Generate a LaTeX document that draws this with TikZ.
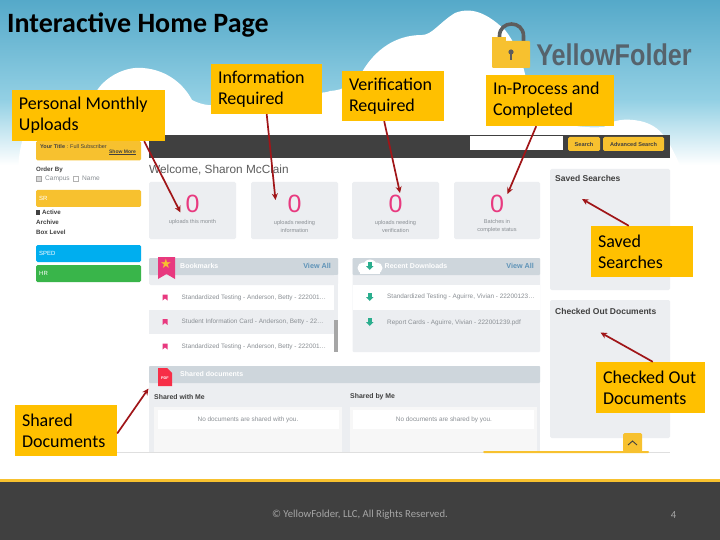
\documentclass[tikz,border=0pt]{standalone}
\usepackage{fontspec}
\setmainfont{Carlito}
\newfontfamily\hv{Liberation Sans}
\newfontfamily\djv{DejaVu Sans}
\definecolor{lblfill}{HTML}{FFC000}
\definecolor{arrowred}{HTML}{A01518}
\definecolor{dark}{HTML}{404040}
\definecolor{gold}{HTML}{F7C12F}
\definecolor{cardbg}{HTML}{ECEEF1}
\definecolor{headbg}{HTML}{CED6DC}
\definecolor{pink}{HTML}{E8397F}
\definecolor{teal}{HTML}{2BAE8E}
\definecolor{skyA}{HTML}{55A9C9}
\definecolor{skyB}{HTML}{93D0E4}
\definecolor{graytxt}{HTML}{8A8F94}
\definecolor{linkblue}{HTML}{5E93B8}
\definecolor{logogray}{HTML}{56636C}
\definecolor{btnblue}{HTML}{00AEEF}
\definecolor{btngreen}{HTML}{39B54A}
\definecolor{foottxt}{HTML}{A6A6A6}
\usetikzlibrary{arrows.meta}
\tikzset{
  lbl/.style={fill=lblfill,inner sep=0pt,align=flush left,font=\fontsize{18}{21}\selectfont,text=black},
  conn/.style={draw=arrowred,line width=1.7pt,-{Stealth[length=6.5pt,width=6pt]}},
  card/.style={fill=cardbg,rounded corners=1.5pt},
  zero/.style={text=pink,font=\hv\fontsize{25}{25}\selectfont,inner sep=0pt},
  tiny/.style={text=graytxt,font=\hv\fontsize{5.6}{8}\selectfont,inner sep=0pt,align=center},
  rowtxt/.style={text=graytxt,font=\hv\fontsize{6.4}{7}\selectfont,inner sep=0pt,anchor=west},
  head/.style={text=white,font=\hv\bfseries\fontsize{7}{8}\selectfont,inner sep=0pt,anchor=west},
  viewall/.style={text=linkblue,font=\hv\bfseries\fontsize{7.2}{8}\selectfont,inner sep=0pt},
  side/.style={font=\hv\bfseries\fontsize{6.2}{7}\selectfont,text=dark,inner sep=0pt,anchor=west},
  sidesmall/.style={inner sep=0pt,anchor=west,font=\hv\fontsize{6.6}{7}\selectfont,text=graytxt},
  sidewhite/.style={inner sep=0pt,anchor=west,font=\hv\fontsize{6}{7}\selectfont,text=white},
  sidebtn/.style={rounded corners=1.5pt},
  btn/.style={fill=gold,rounded corners=1.5pt,inner sep=0pt,font=\hv\bfseries\fontsize{5.6}{6}\selectfont,text=dark},
  panelhd/.style={anchor=west,inner sep=0pt,text=dark,font=\hv\bfseries\fontsize{8.5}{9}\selectfont},
  subhd/.style={anchor=west,inner sep=0pt,text=dark,font=\hv\bfseries\fontsize{6.9}{7}\selectfont},
  footer/.style={text=foottxt,font=\fontsize{10.7}{12}\selectfont,inner sep=0pt},
}
\begin{document}
\begin{tikzpicture}[x=1pt,y=-1pt]
\useasboundingbox (0,0) rectangle (720,540);
% sky
\fill[white] (0,0) rectangle (720,540);
\shade[top color=skyA,bottom color=skyB,draw=none] (0,0) rectangle (720,100);
\shade[top color=skyB,bottom color=white,draw=none] (0,100) rectangle (720,165);
% clouds
\fill[white] (18,170) .. controls (20,135) and (28,112) .. (58,108)
  .. controls (70,108) and (78,112) .. (92,100)
  .. controls (100,78) and (125,66) .. (143,68)
  .. controls (168,70) and (184,85) .. (192,100)
  .. controls (215,112) and (232,100) .. (250,98)
  .. controls (280,88) and (320,96) .. (330,91)
  .. controls (345,90) and (350,85) .. (362,72)
  .. controls (375,50) and (395,35) .. (422,35)
  .. controls (432,35) and (440,22) .. (455,13)
  .. controls (475,5) and (492,18) .. (505,30)
  .. controls (525,55) and (528,90) .. (532,110)
  .. controls (560,128) and (590,128) .. (604,127)
  .. controls (612,120) and (625,118) .. (640,121)
  .. controls (662,126) and (668,140) .. (680,165)
  -- (680,170) -- cycle;
\fill[white] (0,165) rectangle (720,480);
% footer
\fill[dark] (0,482) rectangle (720,540);
\fill[gold] (0,479) rectangle (720,482);
\node[footer] (copy) at (360,515) {© YellowFolder, LLC, All Rights Reserved.};
\node[footer] (pageno) at (673.5,515) {4};
% title
\node (title) at (7,25) [anchor=west,inner sep=0pt,font=\bfseries\fontsize{28}{32}\selectfont,text=black] {Interactive Home Page};
% logo
\draw[draw=dark!85,line width=3.6pt] (499.5,42) -- (499.5,36) .. controls (499.5,20) and (523.5,20) .. (523.5,36) -- (523.5,42);
\fill[gold,rounded corners=1pt] (492,41) rectangle (530,68);
\fill[gold] (492,37) rectangle (506,42);
\fill[dark!85] (511,52) circle (2.6);
\fill[dark!85] (510,52) rectangle (512,60);
\node (logotext) at (614,55) [inner sep=0pt,xscale=0.84,text=logogray,font=\hv\bfseries\fontsize{30}{32}\selectfont] {YellowFolder};
% screenshot top bar
\fill[dark] (149,135) rectangle (670,158);
\fill[white] (470,136.5) rectangle (563,150);
\node[btn,minimum width=32,minimum height=14] (srch) at (584,144) {Search};
\node[btn,minimum width=61,minimum height=14] (adv) at (633.5,144) {Advanced Search};
% sidebar
\fill[gold,sidebtn] (36,141) rectangle (141,160.5);
\node (yt) at (40,147) [inner sep=0pt,anchor=west,font=\hv\fontsize{5.5}{6}\selectfont,text=dark] {\textbf{Your Title} : Full Subscriber};
\node (sm) at (136,152) [inner sep=0pt,anchor=east,font=\hv\bfseries\fontsize{5}{6}\selectfont,text=dark] {Show More};
\draw[dark,line width=.4pt] (109,154.5) -- (136,154.5);
\node[side] (ob) at (36,170) {Order By};
\draw[gray!70,line width=.4pt,fill=gray!30] (36,176) rectangle (41,181);
\node[sidesmall] (cn) at (45,178.5) {Campus};
\draw[gray!60,line width=.4pt,fill=white] (73,176) rectangle (78,181);
\node[sidesmall] (nm) at (82,178.5) {Name};
\fill[gold,sidebtn] (36,190) rectangle (141,207);
\node[sidewhite] (sr) at (39,198) {SR};
\fill[dark] (36,210) rectangle (40,215);
\node[side] (act) at (42,212.5) {Active};
\node[side] (arch) at (36,222) {Archive};
\node[side] (bx) at (36,232.5) {Box Level};
\fill[btnblue,sidebtn] (36,245) rectangle (141,262);
\node[sidewhite] (sped) at (39,253.5) {SPED};
\fill[btngreen,sidebtn] (36,265) rectangle (141,282);
\node[sidewhite] (hr) at (39,273) {HR};
% welcome
\node (wel) at (149,170) [anchor=west,inner sep=0pt,text=dark!85,font=\hv\fontsize{11.8}{13}\selectfont] {Welcome, Sharon McClain};
% stat cards
\fill[card] (149,182) rectangle (236,239);
\fill[card] (251,182) rectangle (338,239);
\fill[card] (352,182) rectangle (439,239);
\fill[card] (454,182) rectangle (540,239);
\node[zero] (z1) at (192.5,204) {0};
\node[zero] (z2) at (294.5,204) {0};
\node[zero] (z3) at (395.5,204) {0};
\node[zero] (z4) at (497,204) {0};
\node[tiny] (t1) at (192.5,222.5) {uploads this month};
\node[tiny] (t2) at (294.5,226.5) {uploads needing\\information};
\node[tiny] (t3) at (395.5,226.5) {uploads needing\\verification};
\node[tiny] (t4) at (497,226.5) {Batches in\\complete status};
% right panels
\fill[card] (550,169) rectangle (670,290);
\node[panelhd] (ss) at (555,178.5) {Saved Searches};
\fill[card] (550,300) rectangle (670,438);
\node[panelhd] (cod) at (555,311.5) {Checked Out Documents};
% bookmarks
\fill[card] (149,258) rectangle (338,285);
\fill[headbg,rounded corners=1pt] (149,258) rectangle (338,275);
\fill[cardbg] (149,310) rectangle (334,334);
\fill[cardbg] (334,275) rectangle (338,352);
\fill[gray!70] (334,320) rectangle (338,352);
\fill[pink] (158,257) -- (175,257) -- (175,279) -- (166.5,274) -- (158,279) -- cycle;
\node (star) at (166,264) [inner sep=0pt,text=gold,font=\djv\fontsize{13}{13}\selectfont] {★};
\node[head] (bm) at (180,266) {Bookmarks};
\node[viewall,anchor=east] (va1) at (331,266) {View All};
\foreach \yy/\txt in {297.5/Standardized Testing - Anderson{,} Betty - 222001\ldots,322/Student Information Card - Anderson{,} Betty - 22\ldots,346.5/Standardized Testing - Anderson{,} Betty - 222001\ldots}{
  \fill[pink] (162.5,\yy-3) -- (167.5,\yy-3) -- (167.5,\yy+3) -- (165,\yy+1) -- (162.5,\yy+3) -- cycle;
  \node[rowtxt] at (181.5,\yy) {\txt};
}
% downloads
\fill[card,rounded corners=1pt] (352.5,258) rectangle (540,352);
\fill[white] (352.5,285) rectangle (540,310);
\fill[headbg,rounded corners=1pt] (352.5,258) rectangle (540,275);
\fill[white] (363,268) circle (5.5);
\fill[white] (370,266.5) circle (7);
\fill[white] (377,268) circle (5.5);
\fill[white] (360,268) rectangle (380,274);
\node[head] (rd) at (384.5,266) {Recent Downloads};
\node[viewall,anchor=east] (va2) at (534,266) {View All};
\foreach \yy in {266,297,322}{
  \fill[teal] (368,\yy-4) rectangle (371.5,\yy);
  \fill[teal] (366,\yy) -- (373.5,\yy) -- (369.75,\yy+4) -- cycle;
}
\node[rowtxt] (dl1) at (387,297) {Standardized Testing - Aguirre, Vivian - 22200123\ldots};
\node[rowtxt] (dl2) at (387,322.5) {Report Cards - Aguirre, Vivian - 222001239.pdf};
% shared documents
\fill[cardbg] (149,366) rectangle (540,452);
\fill[headbg,rounded corners=1pt] (149,366) rectangle (540,383);
\fill[red!60!pink!90!white] (158,368) -- (167,368) -- (172,373) -- (172,386) -- (158,386) -- cycle;
\node (pdf) at (165,378.5) [inner sep=0pt,text=white,font=\hv\bfseries\fontsize{3.8}{4}\selectfont] {PDF};
\node[head] (shd) at (180,374) {Shared documents};
\node[subhd] (swm) at (154,397) {Shared with Me};
\node[subhd] (sbm) at (350,397) {Shared by Me};
\fill[gray!6] (154,407) rectangle (342,452);
\fill[white] (158,410) rectangle (339,429);
\fill[gray!6] (350,407) rectangle (537,452);
\fill[white] (353,410) rectangle (534,429);
\node[rowtxt,anchor=center] (n1) at (248,419.5) {No documents are shared with you.};
\node[rowtxt,anchor=center] (n2) at (444,419.5) {No documents are shared by you.};
\draw[gray!25,line width=.5pt] (36,452) -- (670,452);
\fill[gold,rounded corners=1pt] (483,451) rectangle (649,453);
\fill[gold,rounded corners=1.5pt] (623,433) rectangle (642,452);
\draw[dark,line width=.9pt] (628,445) -- (632.5,441) -- (637,445);
% labels
\node[lbl,text width=139,minimum height=51,inner xsep=7] (pm) at (88.5,115.5) {Personal Monthly\\Uploads};
\node[lbl,text width=97,minimum height=50,inner xsep=7] (ir) at (266.5,89) {Information\\Required};
\node[lbl,text width=88,minimum height=50,inner xsep=7] (vr) at (393,96) {Verification\\Required};
\node[lbl,text width=114,minimum height=51,inner xsep=7] (ip) at (550,100.5) {In-Process and\\Completed};
\node[lbl,text width=88,minimum height=51,inner xsep=7] (sv) at (642,251.5) {Saved\\Searches};
\node[lbl,text width=95,minimum height=51,inner xsep=7] (co) at (650.5,387.5) {Checked Out\\Documents};
\node[lbl,text width=88,minimum height=51,inner xsep=7] (sd) at (66,430.5) {Shared\\Documents};
% connectors
\coordinate (pmT) at (180.5,212.5);
\coordinate (irT) at (275.5,200);
\coordinate (vrT) at (400,193);
\coordinate (ipT) at (507.5,194);
\coordinate (svT) at (582,199);
\coordinate (coT) at (600.5,332.5);
\coordinate (sdT) at (148.5,388.5);
\draw[conn] ([xshift=-21]pm.south east) -- (pmT);
\draw[conn] ([xshift=-55.5]ir.south east) -- (irT);
\draw[conn] ([xshift=-60]vr.south east) -- (vrT);
\draw[conn] ([xshift=-78]ip.south east) -- (ipT);
\draw[conn] ([xshift=38]sv.north west) -- (svT);
\draw[conn] ([xshift=57]co.north west) -- (coT);
\draw[conn] ([yshift=-3]sd.east) -- (sdT);
\end{tikzpicture}
\end{document}
